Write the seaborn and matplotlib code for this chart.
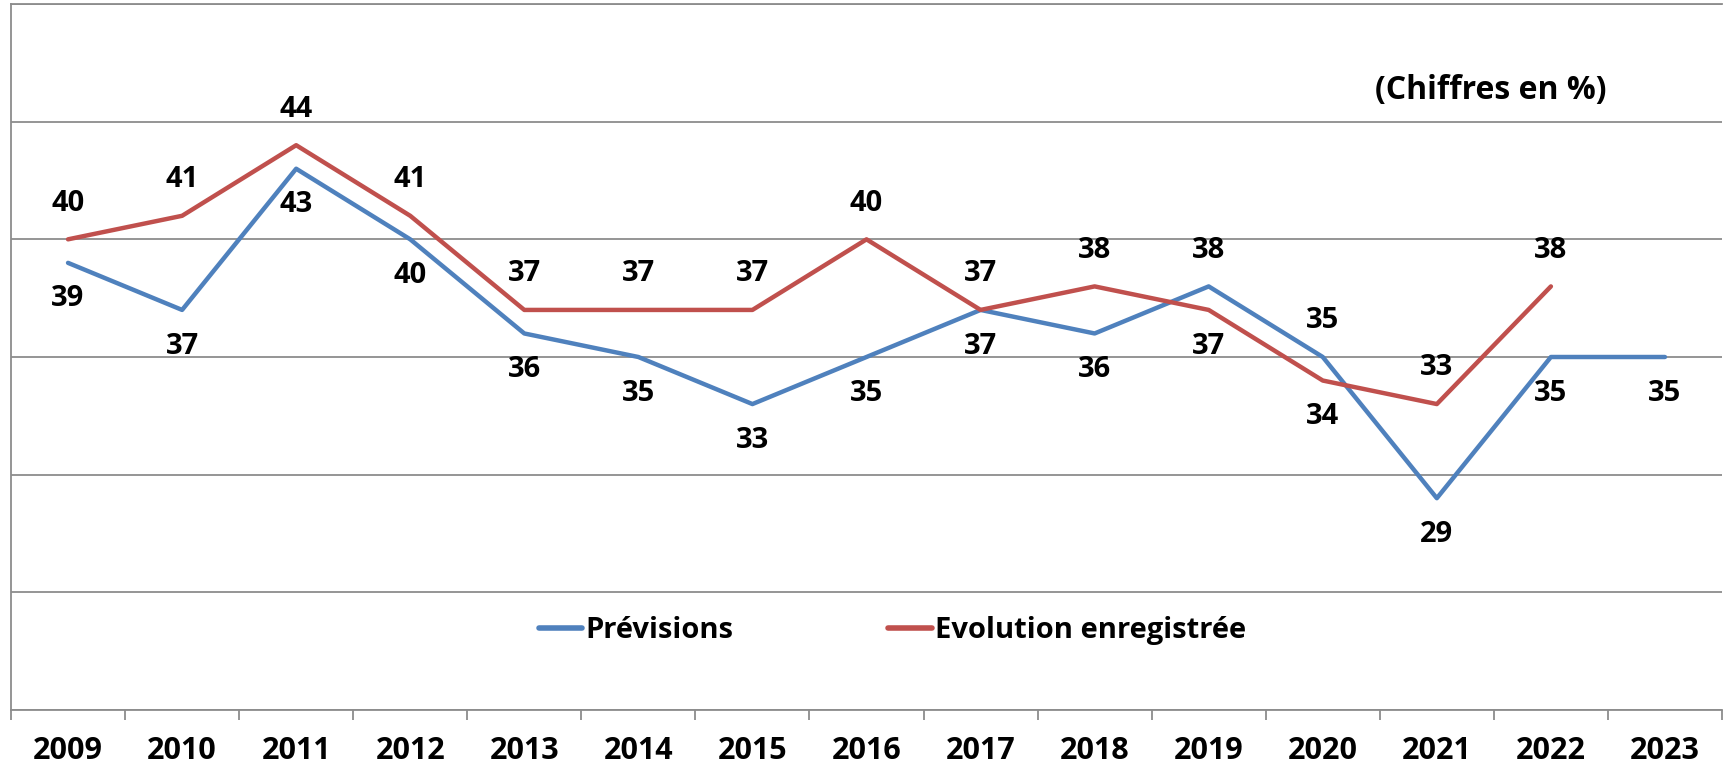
import numpy as np
import pandas as pd
import matplotlib.pyplot as plt
import seaborn as sns
from matplotlib.lines import Line2D

years = [str(y) for y in range(2009, 2024)]
previsions = [39, 37, 43, 40, 36, 35, 33, 35, 37, 36, 38, 35, 29, 35, 35]
evolution = [40, 41, 44, 41, 37, 37, 37, 40, 37, 38, 37, 34, 33, 38, np.nan]
series_names = ["Prévisions", "Evolution enregistrée"]

blue = "#4F81BD"
red = "#C0504D"
grey = "#8C8C8C"

df = pd.DataFrame({
    "pos": list(range(len(years))) * 2,
    "value": previsions + evolution,
    "serie": [series_names[0]] * len(years) + [series_names[1]] * len(years),
})

sns.set_style("white")
plt.rcParams["font.family"] = ["Open Sans", "DejaVu Sans"]
plt.rcParams["font.weight"] = "bold"
plt.rcParams["text.color"] = "black"
plt.rcParams["xtick.color"] = "black"

fig = plt.figure(figsize=(17.25, 7.63), dpi=100)
ax = fig.add_axes([11 / 1725, 53 / 763, (1722 - 11) / 1725, (759 - 53) / 763])

sns.lineplot(data=df, x="pos", y="value", hue="serie",
             palette=[blue, red], linewidth=3.2, ax=ax, legend=False,
             solid_capstyle="round")

ax.set_xlim(-0.5, len(years) - 0.5)
ax.set_ylim(20, 50)
ax.set_yticks(range(20, 51, 5))
ax.set_yticklabels([])
ax.tick_params(axis="y", length=0)
ax.yaxis.grid(True, color=grey, linewidth=1.3)
ax.set_axisbelow(True)

ax.set_xticks(range(len(years)))
ax.set_xticklabels(years, fontsize=22, fontweight="bold")
ax.tick_params(axis="x", which="both", bottom=True, labelcolor="black")
ax.tick_params(axis="x", which="major", length=0, pad=19)
ax.set_xticks(np.arange(-0.5, len(years), 1), minor=True)
ax.tick_params(axis="x", which="minor", length=7, width=1.3, color=grey)
ax.set_xlabel("")
ax.set_ylabel("")

ax.spines["right"].set_visible(False)
for side in ["left", "bottom", "top"]:
    ax.spines[side].set_color(grey)
    ax.spines[side].set_linewidth(1.3)

# data labels: higher series above, lower series below
for i in range(len(years)):
    b = previsions[i]
    r = evolution[i]
    if np.isnan(r):
        b_up = False
    else:
        b_up = b > r
        ax.annotate(str(int(r)), (i, r), xytext=(0, -26 if b_up else 26),
                    textcoords="offset points", ha="center", va="center",
                    fontsize=21, fontweight="bold", color="black")
    ax.annotate(str(int(b)), (i, b), xytext=(0, 26 if b_up else -26),
                textcoords="offset points", ha="center", va="center",
                fontsize=21, fontweight="bold", color="black")

ax.text(0.865, 0.878, "(Chiffres en %)", transform=ax.transAxes,
        ha="center", va="center", fontsize=23, fontweight="bold", color="black")

handles = [Line2D([], [], color=blue, linewidth=4, solid_capstyle="round"),
           Line2D([], [], color=red, linewidth=4, solid_capstyle="round")]
ax.legend(handles, series_names, loc="center", bbox_to_anchor=(0.515, 0.113),
          ncol=2, frameon=False, handlelength=1.5, handletextpad=0.1,
          columnspacing=5.3, labelcolor="black",
          prop={"size": 21, "weight": "bold"})

fig.savefig("out.png", dpi=100)
